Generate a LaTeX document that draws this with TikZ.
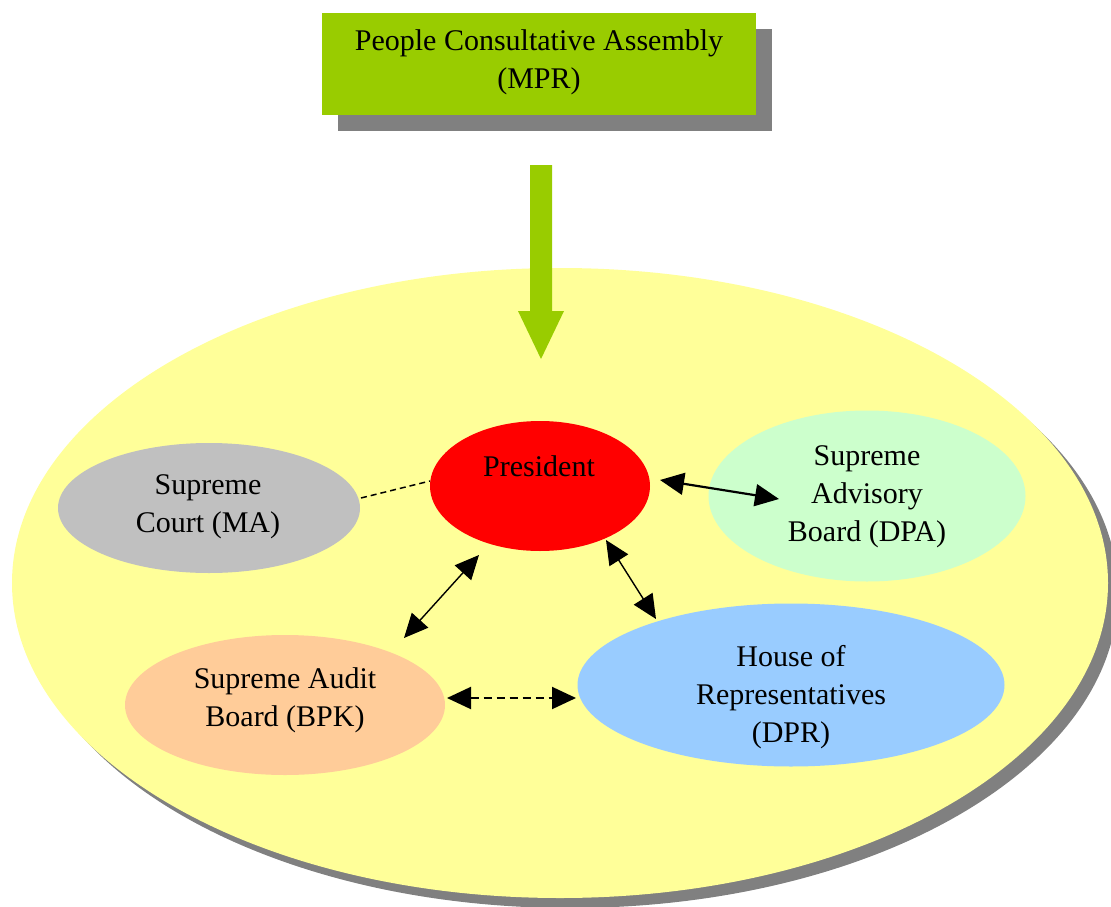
\documentclass[tikz,border=0pt]{standalone}
\usepackage{fontspec}
\setmainfont{Liberation Serif}
\newfontfamily\timesf{Liberation Serif}
\usetikzlibrary{shapes.geometric,arrows.meta}
\definecolor{mprgreen}{HTML}{99CC00}
\definecolor{bigyellow}{HTML}{FFFF99}
\definecolor{shadowgray}{HTML}{808080}
\definecolor{magray}{HTML}{C0C0C0}
\definecolor{dpagreen}{HTML}{CCFFCC}
\definecolor{bpkorange}{HTML}{FFCC99}
\definecolor{dprblue}{HTML}{99CCFF}
\tikzset{
  blob/.style={ellipse, inner sep=0pt, draw=none},
  lbl/.style={align=center, inner sep=0pt, font=\timesf\fontsize{30}{38}\selectfont},
  biarrow/.style={{Triangle[length=24pt,width=22pt]}-{Triangle[length=24pt,width=22pt]}, line width=1.4pt},
}
\begin{document}
\begin{tikzpicture}[x=1pt,y=-1pt]
\useasboundingbox (0,0) rectangle (1111,907);
% big ellipse with shadow
\fill[shadowgray] (570,593) ellipse [x radius=548, y radius=315];
\node[blob, fill=bigyellow, minimum width=1096pt, minimum height=630pt] (world) at (560,583) {};
% MPR box with shadow
\fill[shadowgray] (338,29) rectangle (772,131);
\node[fill=mprgreen, minimum width=434pt, minimum height=102pt, inner sep=0pt] (mpr) at (539,64) {};
\node[lbl] (mprtxt) at (539,62) {People Consultative Assembly\\(MPR)};
% big green arrow
\fill[mprgreen] (530,165) -- (552,165) -- (552,311) -- (564,311) -- (541,359) -- (518,311) -- (530,311) -- cycle;
% ellipses
\node[blob, fill=red, minimum width=220pt, minimum height=130pt] (pres) at (540,486) {};
\node[blob, fill=magray, minimum width=302pt, minimum height=130pt] (ma) at (209,508) {};
\node[blob, fill=dpagreen, minimum width=317pt, minimum height=171pt] (dpa) at (867,496) {};
\node[blob, fill=bpkorange, minimum width=320pt, minimum height=140pt] (bpk) at (285,705) {};
\node[blob, fill=dprblue, minimum width=427pt, minimum height=163pt] (dpr) at (791,685) {};
% labels
\node[lbl] (prestxt) at (539,466) {President};
\node[lbl] (matxt) at (208,507) {Supreme\\Court (MA)};
\node[lbl] (dpatxt) at (867,497) {Supreme\\Advisory\\Board (DPA)};
\node[lbl] (bpktxt) at (285,700) {Supreme Audit\\Board (BPK)};
\node[lbl] (dprtxt) at (791,697) {House of\\Representatives\\(DPR)};
% connector endpoints
\coordinate (c1) at (361,498);
\coordinate (c2) at (430,481);
\coordinate (p1) at (660,480);
\coordinate (d1) at (779,499);
\coordinate (p2) at (479,555);
\coordinate (b1) at (404,638);
\coordinate (p3) at (606,540);
\coordinate (r1) at (656,619);
\coordinate (b2) at (447,698);
\coordinate (r2) at (576,698);
% connectors
\draw[line width=1.5pt, dash pattern=on 6pt off 4pt] (c1) -- (c2);
\draw[biarrow, line width=2.2pt] (p1) -- (d1);
\draw[biarrow] (p2) -- (b1);
\draw[biarrow] (p3) -- (r1);
\draw[biarrow, line width=2pt, dash pattern=on 8pt off 5pt] (b2) -- (r2);
\end{tikzpicture}
\end{document}
